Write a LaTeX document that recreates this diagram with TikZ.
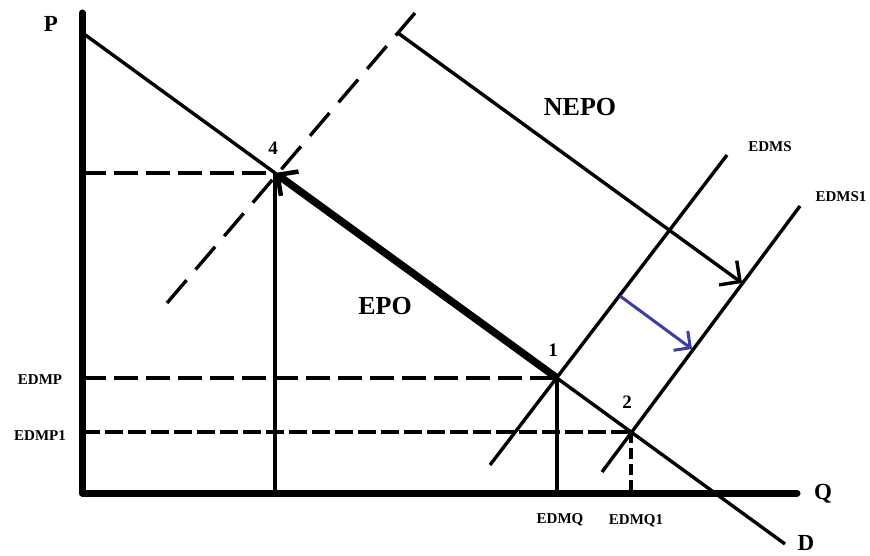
\documentclass[tikz,border=0pt]{standalone}
\usepackage{fontspec}
\setmainfont{Liberation Serif}
\usetikzlibrary{arrows.meta,positioning,calc}
\definecolor{shiftblue}{RGB}{60,60,170}
\tikzset{
  axisline/.style={line width=7pt,line cap=round,line join=round},
  demline/.style={line width=3.4pt},
  supline/.style={line width=3.4pt},
  dropline/.style={line width=3.2pt},
  guideA/.style={line width=3.8pt,dash pattern=on 24pt off 8pt},
  guideB/.style={line width=3.8pt,dash pattern=on 18pt off 5pt},
  guideC/.style={line width=3.2pt,dash pattern=on 11pt off 5pt},
  diagdash/.style={line width=3.4pt,dash pattern=on 30pt off 14pt},
  epoarr/.style={-{Straight Barb[length=15pt,width=30pt,line width=4.5pt]},line width=7.5pt},
  nepoarr/.style={-{Straight Barb[length=15pt,width=30pt,line width=3.4pt]},line width=3.4pt},
  shiftarr/.style={-{Straight Barb[length=12pt,width=24pt,line width=3pt]},line width=3pt,color=shiftblue},
  biglbl/.style={font=\bfseries\fontsize{26}{26}\selectfont,inner sep=0pt},
  axlbl/.style={font=\bfseries\fontsize{23}{23}\selectfont,inner sep=0pt},
  ptlbl/.style={font=\bfseries\fontsize{19}{19}\selectfont,inner sep=0pt},
  smalllbl/.style={font=\bfseries\fontsize{15}{15}\selectfont,inner sep=0pt}
}

\begin{document}
\begin{tikzpicture}[x=1pt,y=-1pt]
  \useasboundingbox (0,0) rectangle (870,556);

  %% axes and demand
  \coordinate (ytop) at (82,13);
  \coordinate (origin) at (82,493);
  \coordinate (xend) at (797,493);
  \coordinate (dtop) at (84,34);
  \coordinate (dbot) at (785,544);

  %% equilibrium points
  \coordinate (p4) at (275,173);
  \coordinate (p1) at (557,378);
  \coordinate (p2) at (631,432);
  \coordinate (p4x) at (275,493); \coordinate (p4y) at (82,173);
  \coordinate (p1x) at (557,493); \coordinate (p1y) at (82,378);
  \coordinate (p2x) at (631,493); \coordinate (p2y) at (82,432);

  %% supply curves
  \coordinate (s0a) at (490,465); \coordinate (s0b) at (727,155);
  \coordinate (s1a) at (602,472); \coordinate (s1b) at (800,206);

  %% dashed diagonal and arrows
  \coordinate (ddA) at (167,303); \coordinate (ddB) at (415,13);
  \coordinate (nepoA) at (398,33); \coordinate (nepoB) at (742,283);
  \coordinate (shA) at (620,296); \coordinate (shB) at (692,349);

  \draw[axisline] (ytop) -- (origin) -- (xend);
  \draw[demline] (dtop) -- (dbot);
  \draw[supline] (s0a) -- (s0b);
  \draw[supline] (s1a) -- (s1b);

  \draw[guideA] (p4y) -- (p4);
  \draw[guideA] (p1y) -- (p1);
  \draw[guideB] (p2y) -- (p2);
  \draw[dropline] (p4) -- (p4x);
  \draw[dropline] (p1) -- (p1x);
  \draw[guideC] (p2) -- (p2x);

  \draw[diagdash] (ddA) -- (ddB);
  \draw[epoarr] (p1) -- (p4);
  \draw[nepoarr] (nepoA) -- (nepoB);
  \draw[shiftarr] (shA) -- (shB);

  %% labels
  \node[axlbl] (lblP) at (51,24) {P};
  \node[axlbl] (lblQ) at (823,494) {Q};
  \node[axlbl] (lblD) at (806,543) {D};
  \node[ptlbl] (lbl4) at (273,148) {4};
  \node[ptlbl] (lbl1) at (553,350) {1};
  \node[ptlbl] (lbl2) at (627,402) {2};
  \node[biglbl] (lblnepo) at (580,107) {NEPO};
  \node[biglbl] (lblepo) at (385,306) {EPO};
  \node[smalllbl] (lbledms) at (770,147) {EDMS};
  \node[smalllbl] (lbledms1) at (841,197) {EDMS1};
  \node[smalllbl] (lbledmp) at (40,380) {EDMP};
  \node[smalllbl] (lbledmp1) at (40,436) {EDMP1};
  \node[smalllbl] (lbledmq) at (560,520) {EDMQ};
  \node[smalllbl] (lbledmq1) at (636,521) {EDMQ1};
\end{tikzpicture}
\end{document}
